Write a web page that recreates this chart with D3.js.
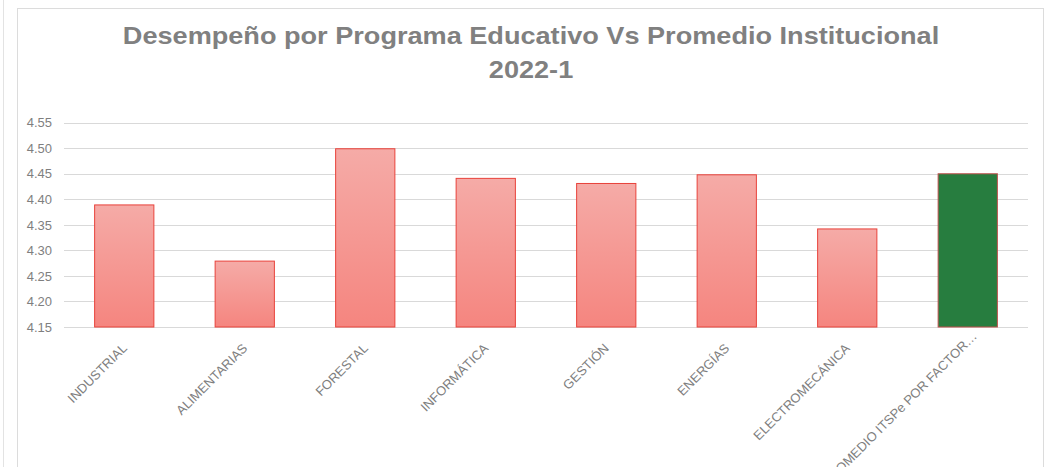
<!DOCTYPE html>
<html><head><meta charset="utf-8">
<script src="https://cdn.jsdelivr.net/npm/d3@7/dist/d3.min.js"></script>
<style>body{margin:0;background:#fff;} svg{display:block;}</style>
</head><body>
<svg id="c" width="1046" height="467"></svg>
<script>
const categories = ["INDUSTRIAL","ALIMENTARIAS","FORESTAL","INFORMÁTICA","GESTIÓN","ENERGÍAS","ELECTROMECÁNICA","PROMEDIO ITSPe POR FACTOR…"];
const values = [4.389, 4.279, 4.499, 4.441, 4.431, 4.448, 4.342, 4.450];
const highlight = [false,false,false,false,false,false,false,true];
const yTicks = [4.15,4.20,4.25,4.30,4.35,4.40,4.45,4.50,4.55];
const titleLines = ["Desempeño por Programa Educativo Vs Promedio Institucional","2022-1"];

const svg = d3.select("#c");
const font = "'Liberation Sans', Arial, sans-serif";

// frames
svg.append("line").attr("x1",3.5).attr("x2",3.5).attr("y1",0).attr("y2",467).attr("stroke","#e3e3e3").attr("stroke-width",1);
svg.append("rect").attr("x",17.5).attr("y",8.5).attr("width",1026).attr("height",470).attr("fill","#fff").attr("stroke","#dcdcdc").attr("stroke-width",1);

const defs = svg.append("defs");
const g1 = defs.append("linearGradient").attr("id","gr").attr("x1",0).attr("y1",0).attr("x2",0).attr("y2",1);
g1.append("stop").attr("offset","0%").attr("stop-color","#f5aba7");
g1.append("stop").attr("offset","100%").attr("stop-color","#f5857f");

const x = d3.scaleBand().domain(categories).range([64,1028]).paddingInner(0.5).paddingOuter(0.25);
const y = d3.scaleLinear().domain([4.15,4.55]).range([327,122.7]);

// gridlines
svg.append("g").selectAll("line").data(yTicks).join("line")
  .attr("x1",64).attr("x2",1028)
  .attr("y1",d=>Math.round(y(d))+0.5).attr("y2",d=>Math.round(y(d))+0.5)
  .attr("stroke","#d9d9d9").attr("stroke-width",1);

// y labels
const yAxis = d3.axisLeft(y).tickValues(yTicks).tickFormat(d3.format(".2f")).tickSize(0).tickPadding(0);
const ya = svg.append("g").attr("transform","translate(52,0)").call(yAxis);
ya.select(".domain").remove();
ya.selectAll("text").attr("font-family",font).attr("font-size","13px").attr("fill","#7f7f7f");

// bars
svg.append("g").selectAll("rect").data(categories).join("rect")
  .attr("x",d=>x(d)+0.5)
  .attr("y",(d,i)=>y(values[i]))
  .attr("width",x.bandwidth()-1)
  .attr("height",(d,i)=>y(4.15)-y(values[i]))
  .attr("fill",(d,i)=>highlight[i]?"#277d3f":"url(#gr)")
  .attr("stroke",(d,i)=>highlight[i]?"#c0504d":"#e8423b")
  .attr("stroke-width",1);

// x labels
const xa = svg.append("g").attr("transform","translate(0,327)");
xa.selectAll("text").data(categories).join("text")
  .attr("transform",(d,i)=>`translate(${x(d)+x.bandwidth()/2+(highlight[i]?10:3.5)},${highlight[i]?10:22}) rotate(-45)`)
  .attr("text-anchor","end")
  .attr("font-family",font).attr("font-size","13px").attr("fill","#7f7f7f")
  .text(d=>d);

// title
svg.append("g").attr("transform","translate(531,0) scale(1.13,1)")
  .selectAll("text").data(titleLines).join("text")
  .attr("x",0).attr("y",(d,i)=>44+i*34)
  .attr("text-anchor","middle")
  .attr("font-family",font).attr("font-weight","bold").attr("font-size","24px").attr("fill","#808080")
  .text(d=>d);
</script>
</body></html>
